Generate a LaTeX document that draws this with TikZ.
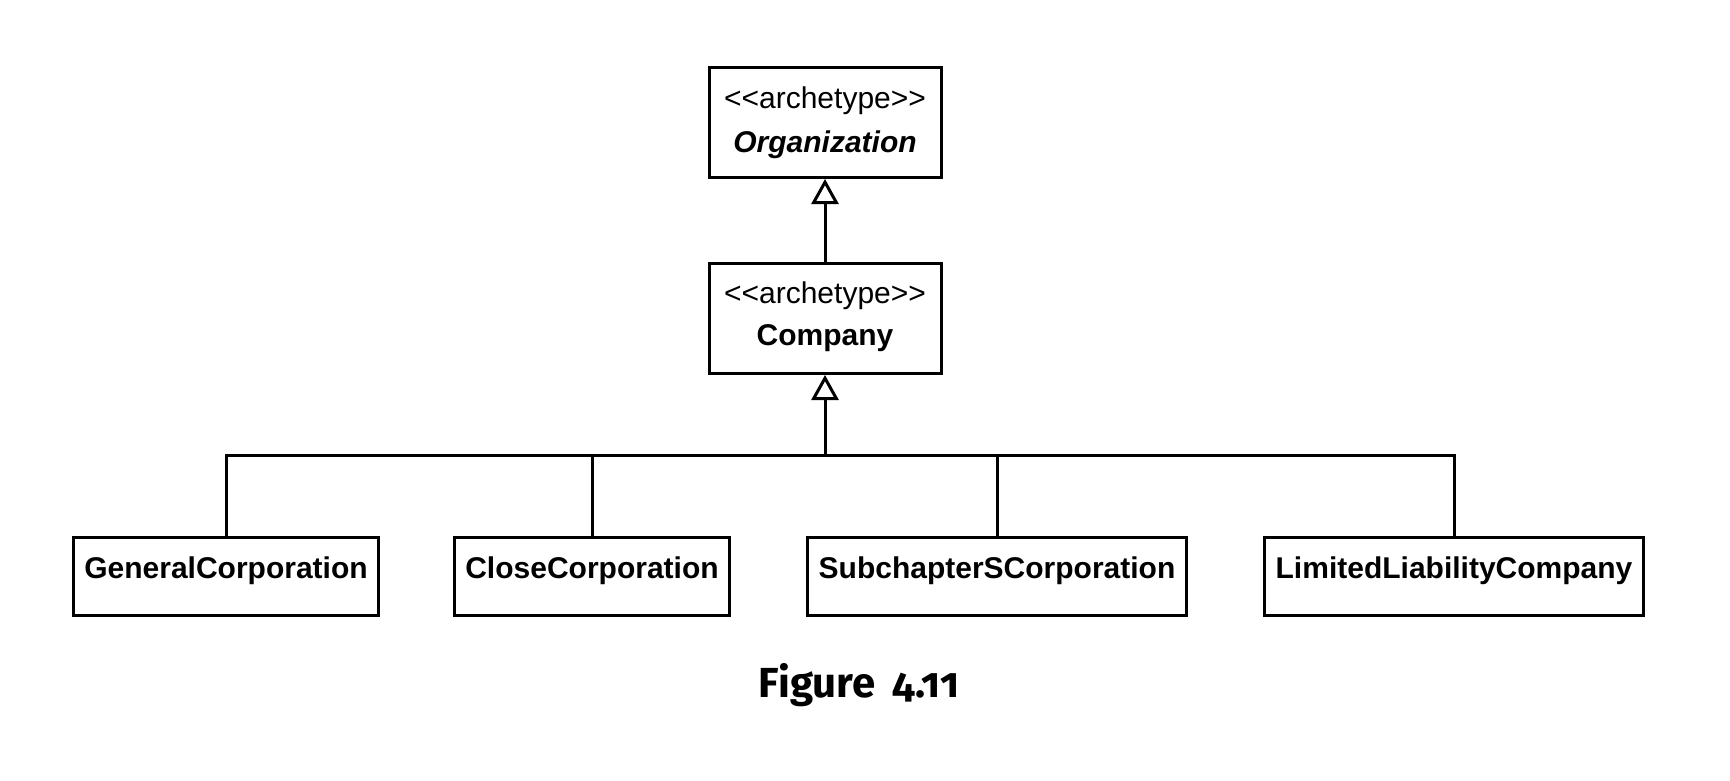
\documentclass[tikz,border=0pt]{standalone}
\usepackage{fontspec}
\setmainfont[Ligatures=TeXOff]{Liberation Sans}
\newfontfamily\capfont[Numbers=OldStyle]{Fira Sans}
\usetikzlibrary{arrows.meta, positioning}
\newcommand{\stereo}[1]{<\kern0pt<#1>\kern0pt>}

\begin{document}
\begin{tikzpicture}[x=1pt, y=-1pt,
  classbox/.style={draw, line width=3pt, inner sep=0pt, minimum width=232pt, minimum height=110pt},
  leafbox/.style={draw, line width=3pt, inner ysep=0pt, inner xsep=11pt, text height=41pt, text depth=37pt,
    font=\fontsize{30}{36}\selectfont\bfseries},
  lbl/.style={anchor=base, inner sep=0pt, font=\fontsize{30}{36}\selectfont},
  tree/.style={line width=3pt},
  gen/.style={line width=3pt, -{Triangle[open, length=25pt, width=27pt]}}]
\useasboundingbox (0,0) rectangle (1730,780);
%
\node[classbox, anchor=north] (org) at (825,66) {};
\node[lbl] (org-st) at ([yshift=-42pt]org.north) {\stereo{archetype}};
\node[lbl, font=\fontsize{30}{36}\selectfont\bfseries\itshape] (org-nm) at ([yshift=-86pt]org.north) {Organization};
\node[classbox, anchor=north] (cmp) at (825,262) {};
\node[lbl] (cmp-st) at ([yshift=-41pt]cmp.north) {\stereo{archetype}};
\node[lbl, font=\fontsize{30}{36}\selectfont\bfseries] (cmp-nm) at ([yshift=-83pt]cmp.north) {Company};
% leaves listed left to right
\node[leafbox, anchor=north] (gen) at (226,536) {GeneralCorporation};
\node[leafbox, anchor=north] (close) at (592,536) {CloseCorporation};
\node[leafbox, anchor=north] (sub) at (997,536) {SubchapterSCorporation};
\node[leafbox, anchor=north] (llc) at (1454,536) {LimitedLiabilityCompany};
\coordinate (bar) at (cmp.south |- 0,455);
%
\draw[tree] (gen.north) |- (bar) -| (llc.north);
\draw[tree] (close.north) -- (close.north |- bar);
\draw[tree] (sub.north) -- (sub.north |- bar);
\draw[gen] (bar) -- (cmp.south);
\draw[gen] (cmp.north) -- (org.south);
%
\node[anchor=base, inner sep=0pt, font=\fontsize{42}{50}\selectfont\capfont\bfseries] (fig) at (859,697) {Figure\, 4.11};
\end{tikzpicture}
\end{document}
